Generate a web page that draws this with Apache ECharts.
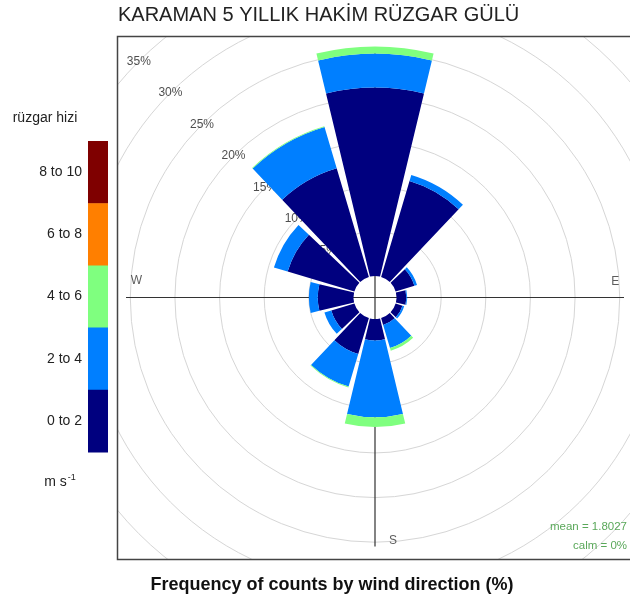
<!DOCTYPE html>
<html><head><meta charset="utf-8">
<script src="https://cdn.jsdelivr.net/npm/echarts@6/dist/echarts.min.js"></script>
<style>html,body{margin:0;padding:0;background:#fff}#c{width:630px;height:600px}</style>
</head><body><div id="c"></div>
<script>
// ---- data ----
const directions = ['0', '30', '60', '90', '120', '150', '180', '210', '240', '270', '300', '330'];
const speedBins = ['0 to 2', '2 to 4', '4 to 6', '6 to 8', '8 to 10'];
const binColors = ['#00007F', '#007FFF', '#7FFF7F', '#FF7F00', '#7F0000'];
const freq0to2 = [21.1, 11.2, 2.2, 1.1, 0.8, 0.8, 2.4, 4.2, 2.7, 4.0, 7.8, 12.7];
const freq2to4 = [3.8, 0.7, 0.3, 0.1, 0.2, 2.7, 8.6, 3.8, 0.8, 1.0, 1.6, 4.8];
const freq4to6 = [0.8, 0.0, 0.0, 0.0, 0.0, 0.3, 1.1, 0.1, 0.0, 0.0, 0.0, 0.1];
const freq6to8 = [0, 0, 0, 0, 0, 0, 0, 0, 0, 0, 0, 0];
const freq8to10 = [0, 0, 0, 0, 0, 0, 0, 0, 0, 0, 0, 0];
const gridTicks = [5, 10, 15, 20, 25, 30, 35];
const compassNames = ['W', 'E', 'S'];
const titleText = 'KARAMAN 5 YILLIK HAKİM RÜZGAR GÜLÜ';
const captionText = 'Frequency of counts by wind direction (%)';
const legendTitle = 'rüzgar hizi';
const meanText = 'mean = 1.8027';
const calmText = 'calm = 0%';

// ---- layout ----
const CX = 375, CY = 297.5, R0 = 21.5, R1 = 334;
const BOX = {x: 117, y: 36, w: 516, h: 523};
const FONT = 'Arial, "Liberation Sans", sans-serif';

const chart = echarts.init(document.getElementById('c'), null, {renderer: 'canvas'});

const binData = [freq0to2, freq2to4, freq4to6, freq6to8, freq8to10];
const barSeries = binData.map((d, i) => ({
  name: speedBins[i], type: 'bar', coordinateSystem: 'polar', polarIndex: 0,
  stack: 'ws', data: d.map(v => (v > 0 ? v : '-')), barCategoryGap: '10%', z: 3, silent: true,
  itemStyle: {color: binColors[i]}
}));

const splitColors = gridTicks.map(() => '#d6d6d6');
splitColors.unshift('rgba(0,0,0,0)');

const compassPos = {W: [24.3, 270, [0, -17]], E: [24.5, 90, [0, -16]], S: [24.8, 180, [18, 0]]};

// legend graphics
const segH = 62.2, barTop = 141, barX = 88, barW = 20;
const legendEls = [];
for (let i = 0; i < speedBins.length; i++) {
  const k = speedBins.length - 1 - i; // top is highest bin
  legendEls.push({type: 'rect', z: 60, silent: true,
    shape: {x: barX, y: barTop + i * segH, width: barW, height: segH + 0.5},
    style: {fill: binColors[k]}});
  legendEls.push({type: 'text', z: 60, x: 82, y: barTop + i * segH + segH / 2,
    style: {text: speedBins[k], font: '14px ' + FONT, fill: '#222', align: 'right', verticalAlign: 'middle'}});
}

const option = {
  animation: false,
  backgroundColor: '#fff',
  polar: [
    {center: [CX, CY], radius: [R0, R1]},
    {center: [CX, CY], radius: [0, 249]},
    {center: [CX, CY], radius: [R0, R1]}
  ],
  angleAxis: [
    {polarIndex: 0, type: 'category', data: directions, startAngle: 105, clockwise: true,
      axisLine: {show: false}, axisTick: {show: false}, axisLabel: {show: false}, splitLine: {show: false}},
    {polarIndex: 1, type: 'value', min: 0, max: 360, interval: 90, startAngle: 90, clockwise: true, z: 1,
      axisLine: {show: false}, axisTick: {show: false}, axisLabel: {show: false},
      splitLine: {show: true, lineStyle: {color: '#333', width: 1.2}}},
    {polarIndex: 2, type: 'value', min: 0, max: 360, startAngle: 90, clockwise: true,
      axisLine: {show: false}, axisTick: {show: false}, axisLabel: {show: false}, splitLine: {show: false}}
  ],
  radiusAxis: [
    {polarIndex: 0, type: 'value', min: 0, max: 35, interval: 5, z: 0,
      axisLine: {show: false}, axisTick: {show: false}, axisLabel: {show: false},
      splitLine: {show: true, lineStyle: {color: splitColors, width: 1}}},
    {polarIndex: 1, type: 'value', min: 0, max: 1,
      axisLine: {show: false}, axisTick: {show: false}, axisLabel: {show: false}, splitLine: {show: false}},
    {polarIndex: 2, type: 'value', min: 0, max: 35,
      axisLine: {show: false}, axisTick: {show: false}, axisLabel: {show: false}, splitLine: {show: false}}
  ],
  series: [
    {type: 'scatter', coordinateSystem: 'polar', polarIndex: 2, z: 2, silent: true,
      symbolSize: 1, itemStyle: {color: 'rgba(0,0,0,0)'},
      data: gridTicks.map(t => ({value: [t, 315], name: t + '%'})),
      label: {show: true, position: 'inside', formatter: p => p.name,
        fontSize: 12, color: '#222', fontFamily: FONT}},
    {type: 'scatter', coordinateSystem: 'polar', polarIndex: 2, z: 2, silent: true,
      symbolSize: 1, itemStyle: {color: 'rgba(0,0,0,0)'},
      data: compassNames.map(n => ({value: [compassPos[n][0], compassPos[n][1]], name: n,
        label: {offset: compassPos[n][2]}})),
      label: {show: true, position: 'inside', formatter: p => p.name,
        fontSize: 12, color: '#333', fontFamily: FONT}},
    ...barSeries
  ],
  graphic: [
    // masks outside the plot box
    {type: 'rect', z: 50, silent: true, shape: {x: 0, y: 0, width: 630, height: BOX.y}, style: {fill: '#fff'}},
    {type: 'rect', z: 50, silent: true, shape: {x: 0, y: 0, width: BOX.x, height: 600}, style: {fill: '#fff'}},
    {type: 'rect', z: 50, silent: true, shape: {x: 0, y: BOX.y + BOX.h, width: 630, height: 600}, style: {fill: '#fff'}},
    {type: 'rect', z: 55, silent: true, shape: {x: BOX.x + 0.5, y: BOX.y + 0.5, width: BOX.w, height: BOX.h},
      style: {fill: 'none', stroke: '#444', lineWidth: 1.5}},
    {type: 'text', z: 60, x: 118, y: 15,
      style: {text: titleText, font: '20px ' + FONT, fill: '#222', align: 'left', verticalAlign: 'middle'}},
    {type: 'text', z: 60, x: 332, y: 585,
      style: {text: captionText, font: 'bold 18px ' + FONT, fill: '#111', align: 'center', verticalAlign: 'middle'}},
    {type: 'text', z: 60, x: 627, y: 527,
      style: {text: meanText, font: '11.5px ' + FONT, fill: '#5aa85a', align: 'right', verticalAlign: 'middle'}},
    {type: 'text', z: 60, x: 627, y: 546,
      style: {text: calmText, font: '11.5px ' + FONT, fill: '#5aa85a', align: 'right', verticalAlign: 'middle'}},
    {type: 'text', z: 60, x: 45, y: 118,
      style: {text: legendTitle, font: '14px ' + FONT, fill: '#222', align: 'center', verticalAlign: 'middle'}},
    {type: 'text', z: 60, x: 60, y: 482,
      style: {text: '{a|m s}{b|-1}', align: 'center', verticalAlign: 'middle',
        rich: {a: {font: '14px ' + FONT, fill: '#222', color: '#222'},
               b: {font: '9px ' + FONT, fill: '#222', color: '#222', verticalAlign: 'top', padding: [0, 0, 8, 1]}}}},
    ...legendEls
  ]
};
chart.setOption(option);
</script>
</body></html>
